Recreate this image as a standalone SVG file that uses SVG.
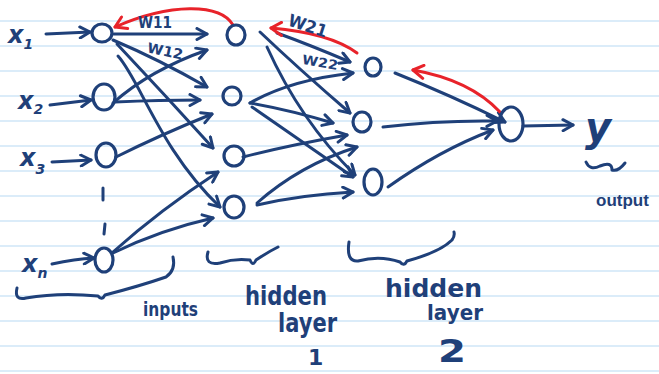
<svg xmlns="http://www.w3.org/2000/svg" width="659" height="374" viewBox="0 0 659 374">
  <defs>
    <marker id="arr" viewBox="0 0 14 14" refX="12" refY="7" markerWidth="14" markerHeight="14" markerUnits="userSpaceOnUse" orient="auto">
      <path d="M2,1.5 L12,7 L2,12.5" fill="none" stroke="#1f4079" stroke-width="3" stroke-linecap="round" stroke-linejoin="round"/>
    </marker>
    <marker id="arrRed" viewBox="0 0 16 16" refX="14" refY="8" markerWidth="16" markerHeight="16" markerUnits="userSpaceOnUse" orient="auto">
      <path d="M3,1.5 L14,8 L4,14.5" fill="none" stroke="#e8232a" stroke-width="3" stroke-linecap="round" stroke-linejoin="round"/>
    </marker>
  </defs>
  <style>
    .paper { stroke: #cfe6f7; stroke-width: 1.5; }
    .node { fill: none; stroke: #1f4079; stroke-width: 3.2; }
    .edge { fill: none; stroke: #1f4079; stroke-width: 3; stroke-linecap: round; marker-end: url(#arr); }
    .line { fill: none; stroke: #1f4079; stroke-width: 3; stroke-linecap: round; stroke-linejoin: round; }
    .back { fill: none; stroke: #e8232a; stroke-width: 3; stroke-linecap: round; marker-end: url(#arrRed); }
    .lbl { fill: #1f4079; font-family: "DejaVu Sans", "Noto Sans", sans-serif; font-weight: bold; }
    .it { font-style: italic; }
    .narrow { font-family: "Liberation Sans", Arial, sans-serif; }
  </style>

  <rect width="659" height="374" fill="#ffffff"/>

  <!-- ruled paper -->
  <g id="paper" class="paper">
    <line x1="0" y1="21" x2="659" y2="21"/>
    <line x1="0" y1="46" x2="659" y2="46"/>
    <line x1="0" y1="71" x2="659" y2="71"/>
    <line x1="0" y1="96" x2="659" y2="96"/>
    <line x1="0" y1="121" x2="659" y2="121"/>
    <line x1="0" y1="146" x2="659" y2="146"/>
    <line x1="0" y1="171" x2="659" y2="171"/>
    <line x1="0" y1="196" x2="659" y2="196"/>
    <line x1="0" y1="221" x2="659" y2="221"/>
    <line x1="0" y1="246" x2="659" y2="246"/>
    <line x1="0" y1="271" x2="659" y2="271"/>
    <line x1="0" y1="296" x2="659" y2="296"/>
    <line x1="0" y1="321" x2="659" y2="321"/>
    <line x1="0" y1="346" x2="659" y2="346"/>
    <line x1="0" y1="371" x2="659" y2="371"/>
  </g>

  <!-- connectors -->
  <g id="connectors">
    <!-- inputs into input layer -->
    <path class="edge" d="M46,34 L90,32"/>
    <path class="edge" d="M50,105 L91,100"/>
    <path class="edge" d="M52,162 L91,160"/>
    <path class="edge" d="M52,264 Q75,259 94,258"/>
    <!-- input layer to hidden layer 1 -->
    <path class="edge" d="M114,34 L207,34"/>
    <path class="edge" d="M113,40 Q160,60 207,87"/>
    <path class="edge" d="M117,44 Q165,95 213,148"/>
    <path class="edge" d="M118,56 C140,80 160,150 220,207"/>
    <path class="edge" d="M113,103 Q150,70 207,50"/>
    <path class="edge" d="M115,102 Q160,100 200,100"/>
    <path class="edge" d="M116,157 Q160,135 212,114"/>
    <path class="edge" d="M113,252 Q160,210 218,172"/>
    <path class="edge" d="M113,253 Q160,230 213,218"/>
    <!-- hidden layer 1 to hidden layer 2 -->
    <path class="edge" d="M277,33 Q310,45 350,62"/>
    <path class="edge" d="M260,32 Q300,70 350,113"/>
    <path class="edge" d="M267,47 Q300,120 355,175"/>
    <path class="edge" d="M250,103 Q290,80 353,73"/>
    <path class="edge" d="M250,103 Q290,110 333,123"/>
    <path class="edge" d="M252,107 Q300,140 353,177"/>
    <path class="edge" d="M243,157 Q290,145 347,135"/>
    <path class="edge" d="M257,203 Q300,165 357,147"/>
    <path class="edge" d="M257,205 Q300,195 353,192"/>
    <!-- hidden layer 2 to output -->
    <path class="edge" d="M395,73 Q450,95 505,122"/>
    <path class="edge" d="M383,127 Q440,120 497,121"/>
    <path class="edge" d="M388,187 Q440,150 493,130"/>
    <path class="edge" d="M523,126 L573,125"/>
    <!-- backward arrows -->
    <path class="back" d="M233,25 C220,3 170,3 115,27"/>
    <path class="back" d="M357,53 Q330,33 271,28"/>
    <path class="back" d="M500,112 Q470,80 413,70"/>
  </g>

  <!-- input layer -->
  <g id="in1"><ellipse class="node" cx="102" cy="33" rx="10" ry="9"/></g>
  <g id="in2"><ellipse class="node" cx="104" cy="97" rx="11" ry="13"/></g>
  <g id="in3"><ellipse class="node" cx="106" cy="155" rx="10" ry="12"/></g>
  <g id="inN"><ellipse class="node" cx="104" cy="260" rx="9" ry="12"/></g>

  <!-- hidden layer 1 -->
  <g id="h1a"><ellipse class="node" cx="236" cy="35" rx="9" ry="10"/></g>
  <g id="h1b"><ellipse class="node" cx="232" cy="96" rx="9" ry="9"/></g>
  <g id="h1c"><ellipse class="node" cx="234" cy="156" rx="10" ry="10"/></g>
  <g id="h1d"><ellipse class="node" cx="234" cy="207" rx="10" ry="11"/></g>

  <!-- hidden layer 2 -->
  <g id="h2a"><ellipse class="node" cx="373" cy="67" rx="8" ry="9"/></g>
  <g id="h2b"><ellipse class="node" cx="362" cy="122" rx="9" ry="10"/></g>
  <g id="h2c"><ellipse class="node" cx="373" cy="182" rx="9" ry="13"/></g>

  <!-- output neuron -->
  <g id="out"><ellipse class="node" cx="511" cy="124" rx="12" ry="17"/></g>

  <!-- input labels -->
  <g id="labels-x" class="lbl it">
    <text x="8" y="43" font-size="24">x<tspan font-size="14" dy="6">1</tspan></text>
    <text x="18" y="109" font-size="24">x<tspan font-size="14" dy="5">2</tspan></text>
    <text x="20" y="166" font-size="24">x<tspan font-size="14" dy="8">3</tspan></text>
    <text x="22" y="272" font-size="24">x<tspan font-size="14" dy="6">n</tspan></text>
  </g>
  <!-- vertical ellipsis between x3 and xn -->
  <g id="ellipsis">
    <path class="line" d="M103,188 L103,200"/>
    <path class="line" d="M105,224 L104,234"/>
  </g>

  <!-- weight labels -->
  <g id="weights" class="lbl">
    <text x="138" y="28" font-size="15" textLength="34" lengthAdjust="spacingAndGlyphs">W11</text>
    <text x="147" y="56" font-size="14" textLength="36" lengthAdjust="spacingAndGlyphs" transform="rotate(12 165 52)">W12</text>
    <text x="287" y="31" font-size="17" textLength="40" lengthAdjust="spacingAndGlyphs" transform="rotate(18 305 28)">W21</text>
    <text x="302" y="67" font-size="13" textLength="36" lengthAdjust="spacingAndGlyphs" transform="rotate(10 320 63)">W22</text>
  </g>

  <!-- braces -->
  <g id="braces">
    <path class="line" d="M17,288 Q14,301 26,298 Q60,292 98,296 Q102,301 105,295 Q140,286 166,277 Q176,270 173,257"/>
    <path class="line" d="M208,252 Q204,266 220,263 Q235,258 250,260 Q253,267 256,260 Q268,252 278,247"/>
    <path class="line" d="M349,242 Q346,262 358,261 Q380,255 400,262 Q404,267 407,261 Q440,252 452,240 Q455,236 454,232"/>
    <path class="line" d="M586,162 Q590,171 600,166 Q612,161 612,170 Q618,172 625,163"/>
  </g>

  <!-- layer captions -->
  <g id="captions" class="lbl">
    <text x="143" y="316" font-size="20" textLength="55" lengthAdjust="spacingAndGlyphs">inputs</text>
    <text x="245" y="305" font-size="26" textLength="82" lengthAdjust="spacingAndGlyphs">hidden</text>
    <text x="278" y="332" font-size="26" textLength="59" lengthAdjust="spacingAndGlyphs">layer</text>
    <text x="308" y="365" font-size="22">1</text>
    <text x="385" y="297" font-size="24" textLength="97" lengthAdjust="spacingAndGlyphs">hidden</text>
    <text x="427" y="320" font-size="22" textLength="56" lengthAdjust="spacingAndGlyphs">layer</text>
    <text x="438" y="362" font-size="32" textLength="28" lengthAdjust="spacingAndGlyphs">2</text>
    <text x="585" y="141" font-size="40" class="it">y</text>
    <text x="596" y="206" font-size="17" class="narrow">output</text>
  </g>
</svg>
